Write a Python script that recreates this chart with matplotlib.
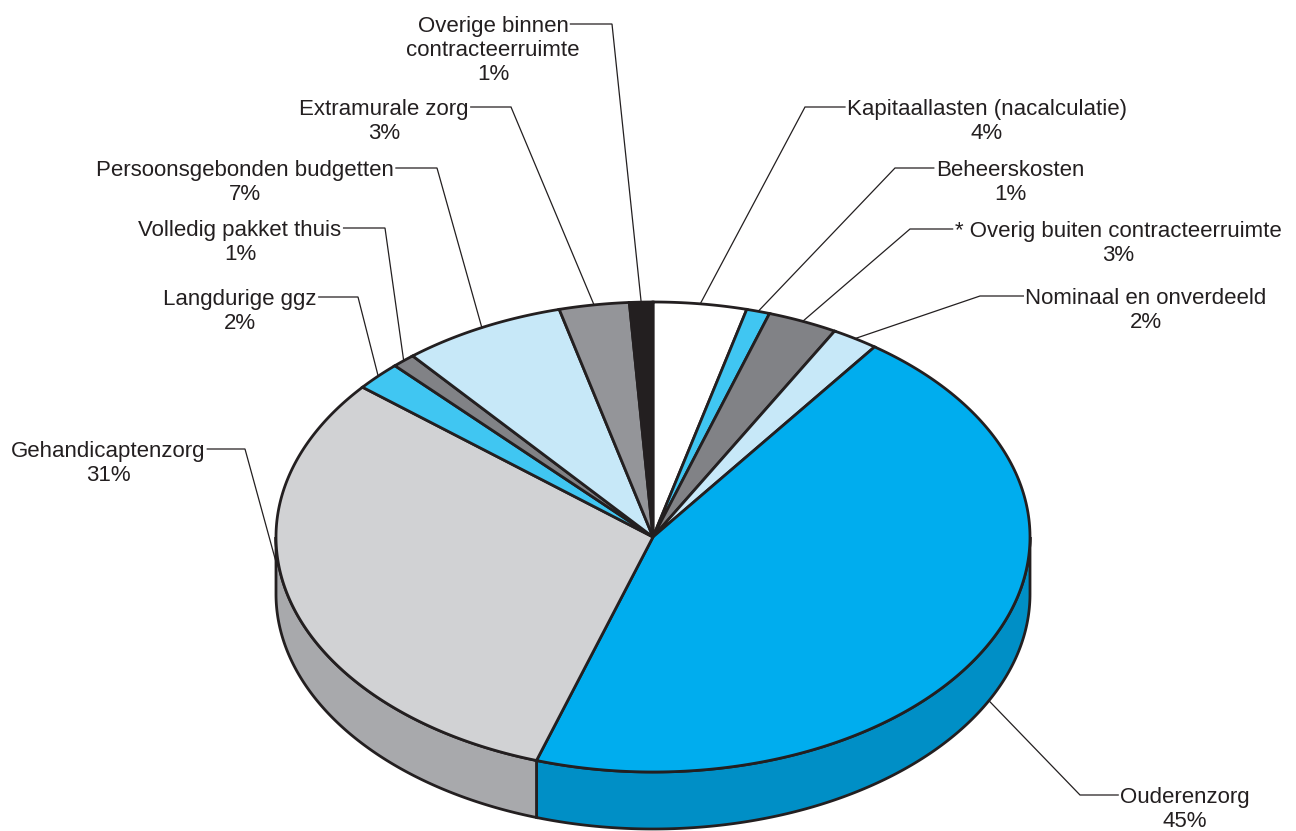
import numpy as np
import matplotlib.pyplot as plt
from matplotlib.patches import Polygon

plt.rcParams['font.family'] = ['Liberation Sans', 'DejaVu Sans']

# Uitgaven per sector (%), met de klok mee vanaf 12 uur
sectors = ['Kapitaallasten (nacalculatie)', 'Beheerskosten',
           '* Overig buiten contracteerruimte', 'Nominaal en onverdeeld',
           'Ouderenzorg', 'Gehandicaptenzorg', 'Langdurige ggz',
           'Volledig pakket thuis', 'Persoonsgebonden budgetten',
           'Extramurale zorg', 'Overige binnen\ncontracteerruimte']
shares = [4, 1, 3, 2, 45, 31, 2, 1, 7, 3, 1]
top_colors = ['#ffffff', '#40c6f2', '#818286', '#c7e8f8', '#00adee',
              '#d1d2d4', '#40c6f2', '#818286', '#c7e8f8', '#949599', '#231f20']
side_colors = ['#d9d9d9', '#2aa3cf', '#65666a', '#a6c6d8', '#008fc6',
               '#a8a9ac', '#2aa3cf', '#65666a', '#a6c6d8', '#76777b', '#111111']

# label layout: centre x of text, y of first line, x of leader knee
label_cx = [987, 1010, 1118, 1146, 1185, 108, 240, 240, 245, 384, 493]
label_y = [107, 168, 229, 296, 795, 449, 297, 228, 168, 107, 24]
knee_x = [805, 895, 910, 980, 1080, 245, 358, 385, 437, 511, 612]

W, H = 1296, 831
cx, cy, rx, ry, depth = 653, 537, 377, 235, 57
edge = '#231f20'

fig = plt.figure(figsize=(W / 100, H / 100), dpi=100)
ax = fig.add_axes([0, 0, 1, 1])
ax.set_xlim(0, W)
ax.set_ylim(H, 0)
ax.axis('off')


def rim(a0, a1, n=200, drop=0):
    t = np.radians(np.linspace(a0, a1, n))
    return np.column_stack([cx + rx * np.sin(t), cy - ry * np.cos(t) + drop])


bounds = np.concatenate([[0], np.cumsum(shares)]) / sum(shares) * 360

# zijkant: alleen het voorste deel (90..270 graden)
for a0, a1, sc in zip(bounds[:-1], bounds[1:], side_colors):
    lo, hi = max(a0, 90), min(a1, 270)
    if hi <= lo:
        continue
    upper = rim(lo, hi)
    lower = rim(lo, hi, drop=depth)[::-1]
    ax.add_patch(Polygon(np.vstack([upper, lower]), closed=True, facecolor=sc,
                         edgecolor=edge, lw=2, joinstyle='miter'))

# bovenvlak
for a0, a1, tc in zip(bounds[:-1], bounds[1:], top_colors):
    pts = np.vstack([[cx, cy], rim(a0, a1)])
    ax.add_patch(Polygon(pts, closed=True, facecolor=tc, edgecolor=edge,
                         lw=2, joinstyle='miter'))

renderer = fig.canvas.get_renderer()
inv = ax.transData.inverted()
fs = 16
step = 24
for i, name in enumerate(sectors):
    mid = (bounds[i] + bounds[i + 1]) / 2
    drop = 0
    if name == 'Ouderenzorg':
        drop = depth
    if name == 'Gehandicaptenzorg':
        mid, drop = 270, 25
    anchor = rim(mid, mid, n=1, drop=drop)[0]

    lines = name.split('\n') + [f'{shares[i]}%']
    txts = [ax.text(label_cx[i], label_y[i] + 8 + k * step, ln, fontsize=fs,
                    color=edge, ha='center', va='baseline')
            for k, ln in enumerate(lines)]

    bb = txts[0].get_window_extent(renderer)
    (x0, _), (x1, _) = inv.transform([[bb.x0, bb.y0], [bb.x1, bb.y1]])
    y = label_y[i]
    start = x1 + 2 if knee_x[i] > label_cx[i] else x0 - 2
    ax.plot([start, knee_x[i], anchor[0]], [y, y, anchor[1]], color=edge,
            lw=0.9, solid_joinstyle='miter')

fig.savefig('out.png', dpi=100, facecolor='white')
